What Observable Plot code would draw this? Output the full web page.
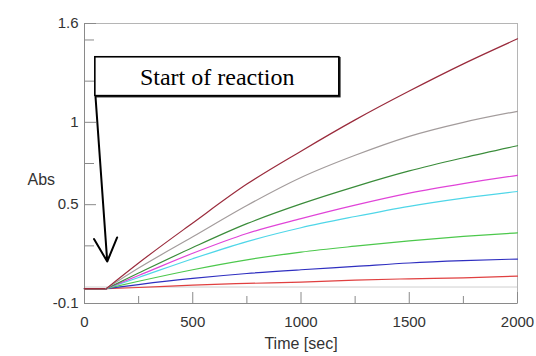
<!DOCTYPE html>
<html><head><meta charset="utf-8">
<script src="https://cdn.jsdelivr.net/npm/d3@7"></script>
<script src="https://cdn.jsdelivr.net/npm/@observablehq/plot@0.6"></script>
<style>body{margin:0;background:#fff}</style>
</head><body><div id="chart"></div>
<script>
// Time points (sec)
const times = [0, 100, 250, 500, 750, 1000, 1250, 1500, 1750, 2000];
// Series (top to bottom at t = 2000)
const seriesNames = ["Series 1", "Series 2", "Series 3", "Series 4", "Series 5", "Series 6", "Series 7", "Series 8"];
const seriesColors = ["#9a2b3c", "#a39c9c", "#3a8c3a", "#e044d8", "#4fd6e8", "#4cc84c", "#2f2fc0", "#e04040"];
const series1Abs = [-0.01, -0.01, 0.146, 0.389, 0.625, 0.825, 1.015, 1.19, 1.355, 1.507];
const series2Abs = [-0.01, -0.01, 0.115, 0.305, 0.495, 0.665, 0.80, 0.915, 1.0, 1.067];
const series3Abs = [-0.01, -0.01, 0.085, 0.24, 0.385, 0.505, 0.61, 0.705, 0.785, 0.858];
const series4Abs = [-0.01, -0.01, 0.07, 0.205, 0.325, 0.415, 0.497, 0.57, 0.628, 0.678];
const series5Abs = [-0.01, -0.01, 0.058, 0.172, 0.276, 0.36, 0.428, 0.49, 0.54, 0.58];
const series6Abs = [-0.01, -0.01, 0.035, 0.105, 0.165, 0.212, 0.248, 0.28, 0.307, 0.329];
const series7Abs = [-0.01, -0.01, 0.015, 0.052, 0.082, 0.105, 0.125, 0.146, 0.16, 0.17];
const series8Abs = [-0.01, -0.01, -0.003, 0.012, 0.022, 0.03, 0.042, 0.05, 0.056, 0.066];
const seriesValues = [series1Abs, series2Abs, series3Abs, series4Abs, series5Abs, series6Abs, series7Abs, series8Abs];

// Axis ticks
const yTickLabels = [-0.1, 0.5, 1, 1.6];
const yMinorTicks = [0.25, 0.75, 1.25, 1.5];
const xTickLabels = [0, 500, 1000, 1500, 2000];
const xMinorTicks = [250, 750, 1250, 1750];
const reactionStart = 100;

// Annotation (data coordinates: time, Abs)
const annotationText = ["Start of reaction"];
const annotationBox = [{t1: 50, t2: 1177, v1: 1.159, v2: 1.395}];
const annotationCenter = {t: 613, v: 1.272};
const annotationArrow = [{t1: 51, v1: 1.153, t2: 105, v2: 0.155}];

const rows = [];
for (let i = seriesNames.length - 1; i >= 0; i--) {
  seriesValues[i].forEach((v, j) => rows.push({series: seriesNames[i], t: times[j], v}));
}

const chart = Plot.plot({
  width: 536, height: 356,
  marginLeft: 84, marginRight: 19, marginTop: 23, marginBottom: 53,
  x: {domain: [0, 2000], label: null},
  y: {domain: [-0.1, 1.6], label: null},
  color: {domain: seriesNames, range: seriesColors},
  style: {fontFamily: "'Liberation Sans', Arial, sans-serif", fontSize: "15px", color: "#333", background: "#fff"},
  marks: [
    Plot.ruleY([0], {stroke: "#cfcfcf"}),
    Plot.frame({stroke: "#b5b5b5"}),
    Plot.ruleX([0], {stroke: "#8a8a8a"}),
    Plot.ruleY([-0.1], {stroke: "#8a8a8a"}),
    Plot.axisY(yTickLabels, {tickSize: 12, dx: 12, tickFormat: () => "", stroke: "#8a8a8a"}),
    Plot.axisY(yMinorTicks, {tickSize: 10, dx: 10, tickFormat: () => "", stroke: "#8a8a8a"}),
    Plot.axisY(yTickLabels, {tickSize: 0, tickPadding: 6, tickFormat: d => String(d), fill: "#333"}),
    Plot.axisX(xTickLabels, {tickSize: 11, dy: -11, tickFormat: () => "", stroke: "#8a8a8a"}),
    Plot.axisX(xMinorTicks, {tickSize: 7, dy: -7, tickFormat: () => "", stroke: "#8a8a8a"}),
    Plot.axisX(xTickLabels, {tickSize: 0, tickPadding: 13, tickFormat: d => String(d), fill: "#333"}),
    Plot.line(rows.filter(d => d.t <= reactionStart), {x: "t", y: "v", z: "series", stroke: "series", strokeWidth: 1.4}),
    Plot.line(rows.filter(d => d.t >= reactionStart), {x: "t", y: "v", z: "series", stroke: "series", strokeWidth: 1.2, curve: "monotone-x"}),
    Plot.rect(annotationBox, {x1: "t1", x2: "t2", y1: "v1", y2: "v2", fill: "none", stroke: "#222", strokeWidth: 1.6, dx: 1, dy: 1}),
    Plot.rect(annotationBox, {x1: "t1", x2: "t2", y1: "v1", y2: "v2", fill: "white", stroke: "black", strokeWidth: 1.6}),
    Plot.text(annotationText, {x: annotationCenter.t, y: annotationCenter.v, text: d => d,
      fontFamily: "'Liberation Serif', 'Times New Roman', serif", fontSize: 24, fill: "black"}),
    Plot.arrow(annotationArrow, {x1: "t1", y1: "v1", x2: "t2", y2: "v2", stroke: "black", strokeWidth: 2, headLength: 19.5, headAngle: 53}),
    Plot.text(["Abs"], {frameAnchor: "top-left", dx: -57, dy: 150, text: d => d, fontSize: 16, fill: "#333"}),
    Plot.text(["Time [sec]"], {frameAnchor: "bottom", dy: 45, text: d => d, fontSize: 16, fill: "#333"})
  ]
});
document.getElementById("chart").appendChild(chart);
</script>
</body></html>
